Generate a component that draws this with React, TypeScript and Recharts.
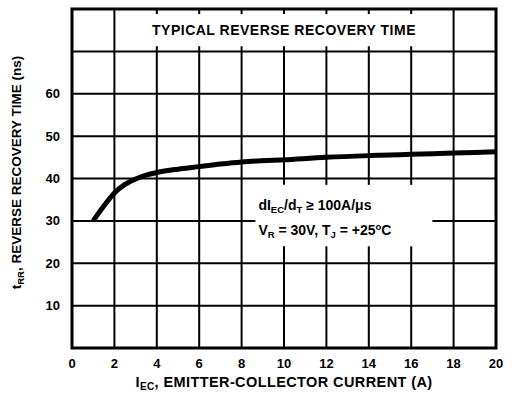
import {
  Line,
  LineChart,
  ReferenceArea,
  ReferenceLine,
  XAxis,
  YAxis,
} from "recharts";

const currentA = [1, 1.5, 2, 2.5, 3, 3.5, 4, 5, 6, 7, 8, 10, 12, 14, 16, 18, 20];
const recoveryNs = [30, 33.5, 36.6, 38.6, 39.9, 40.8, 41.4, 42.2, 42.8, 43.4, 43.9, 44.4, 45.0, 45.4, 45.7, 46.0, 46.3];

const xTicks = [0, 2, 4, 6, 8, 10, 12, 14, 16, 18, 20];
const yTicks = [0, 10, 20, 30, 40, 50, 60, 70, 80];
const yLabelled = [10, 20, 30, 40, 50, 60];

const chartData = currentA.map((x, i) => ({ x, y: recoveryNs[i] }));

const FONT = "'Liberation Sans', Arial, Helvetica, sans-serif";

// title box and note box, in data units; grid lines are broken around them
const TITLE = { x1: 2, x2: 18, y1: 70, y2: 80 };
const NOTE = { x1: 8.65, x2: 17, y1: 24, y2: 38.5 };
const STUB = 1.2;

type Seg = [{ x: number; y: number }, { x: number; y: number }];

function gridSegments(): Seg[] {
  const segs: Seg[] = [];
  for (const x of xTicks.slice(1, -1)) {
    if (x === TITLE.x1 || x === TITLE.x2) {
      segs.push([{ x, y: 0 }, { x, y: 80 }]);
      continue;
    }
    if (x > NOTE.x1 && x < NOTE.x2) {
      segs.push([{ x, y: 0 }, { x, y: NOTE.y1 }]);
      segs.push([{ x, y: NOTE.y2 }, { x, y: TITLE.y1 + STUB }]);
    } else {
      segs.push([{ x, y: 0 }, { x, y: TITLE.y1 + STUB }]);
    }
    segs.push([{ x, y: TITLE.y2 - STUB }, { x, y: 80 }]);
  }
  for (const y of yTicks.slice(1, -1)) {
    if (y > NOTE.y1 && y < NOTE.y2) {
      segs.push([{ x: 0, y }, { x: NOTE.x1, y }]);
      segs.push([{ x: NOTE.x2, y }, { x: 20, y }]);
    } else {
      segs.push([{ x: 0, y }, { x: 20, y }]);
    }
  }
  return segs;
}

function TitleLabel(props: any) {
  const { x, y, width, height } = props.viewBox;
  return (
    <text
      x={x + width / 2}
      y={y + height / 2 + 5}
      textAnchor="middle"
      fontFamily={FONT}
      fontWeight="bold"
      fontSize={14}
      letterSpacing={0.5}
      fill="#000"
    >
      TYPICAL REVERSE RECOVERY TIME
    </text>
  );
}

function NoteLabel(props: any) {
  const { x, y } = props.viewBox;
  const left = x + 3;
  return (
    <g fontFamily={FONT} fontWeight="bold" fontSize={14} fill="#000">
      <text x={left} y={y + 25}>
        dI<tspan fontSize={9.5} dy={3}>EC</tspan>
        <tspan dy={-3}>/d</tspan>
        <tspan fontSize={9.5} dy={3}>T</tspan>
        <tspan dy={-3}> ≥ 100A/μs</tspan>
      </text>
      <text x={left} y={y + 50}>
        V<tspan fontSize={9.5} dy={3}>R</tspan>
        <tspan dy={-3}> = 30V, T</tspan>
        <tspan fontSize={9.5} dy={3}>J</tspan>
        <tspan dy={-3}> = +25</tspan>
        <tspan fontSize={9.5} dy={-5}>o</tspan>
        <tspan dy={5}>C</tspan>
      </text>
    </g>
  );
}

function XTitle(props: any) {
  const { x, width } = props.viewBox;
  return (
    <text
      x={x + width / 2}
      y={387}
      textAnchor="middle"
      fontFamily={FONT}
      fontWeight="bold"
      fontSize={14.5}
      letterSpacing={0.4}
      fill="#000"
    >
      I<tspan fontSize={10} dy={3}>EC</tspan>
      <tspan dy={-3}>, EMITTER-COLLECTOR CURRENT (A)</tspan>
    </text>
  );
}

function YTitle(props: any) {
  const { y, height } = props.viewBox;
  const cx = 21;
  const cy = y + height / 2 - 6;
  return (
    <text
      x={cx}
      y={cy}
      transform={`rotate(-90 ${cx} ${cy})`}
      textAnchor="middle"
      fontFamily={FONT}
      fontWeight="bold"
      fontSize={13.5}
      fill="#000"
    >
      t<tspan fontSize={9.5} dy={3}>RR</tspan>
      <tspan dy={-3}>, REVERSE RECOVERY TIME (ns)</tspan>
    </text>
  );
}

const tickStyle = {
  fontFamily: FONT,
  fontWeight: "bold",
  fontSize: 13,
  fill: "#000",
};

export default function App() {
  const segs = gridSegments();
  return (
    <div style={{ position: "absolute", left: 0, top: 0, background: "#fff" }}>
      <LineChart
        width={514}
        height={400}
        data={chartData}
        margin={{ top: 9, right: 18, left: 0, bottom: 0 }}
      >
        <XAxis
          dataKey="x"
          type="number"
          domain={[0, 20]}
          ticks={xTicks}
          height={52}
          axisLine={false}
          tickLine={false}
          tickSize={0}
          tickMargin={11}
          tick={tickStyle}
          label={<XTitle />}
        />
        <YAxis
          type="number"
          domain={[0, 80]}
          ticks={yTicks}
          width={72}
          axisLine={false}
          tickLine={false}
          tickSize={0}
          tickMargin={12}
          tick={tickStyle}
          tickFormatter={(v: number) => (yLabelled.includes(v) ? String(v) : "")}
          label={<YTitle />}
        />
        {segs.map((s, i) => (
          <ReferenceLine key={i} segment={s} stroke="#000" strokeWidth={2} />
        ))}
        <ReferenceArea
          x1={TITLE.x1}
          x2={TITLE.x2}
          y1={TITLE.y1}
          y2={TITLE.y2}
          fill="none"
          stroke="none"
          label={<TitleLabel />}
        />
        <ReferenceArea
          x1={NOTE.x1}
          x2={NOTE.x2}
          y1={NOTE.y1}
          y2={NOTE.y2}
          fill="none"
          stroke="none"
          label={<NoteLabel />}
        />
        <Line
          type="monotone"
          dataKey="y"
          stroke="#000"
          strokeWidth={5}
          dot={false}
          isAnimationActive={false}
        />
        <ReferenceArea
          x1={0}
          x2={20}
          y1={0}
          y2={80}
          fill="none"
          stroke="#000"
          strokeWidth={3}
        />
      </LineChart>
    </div>
  );
}
